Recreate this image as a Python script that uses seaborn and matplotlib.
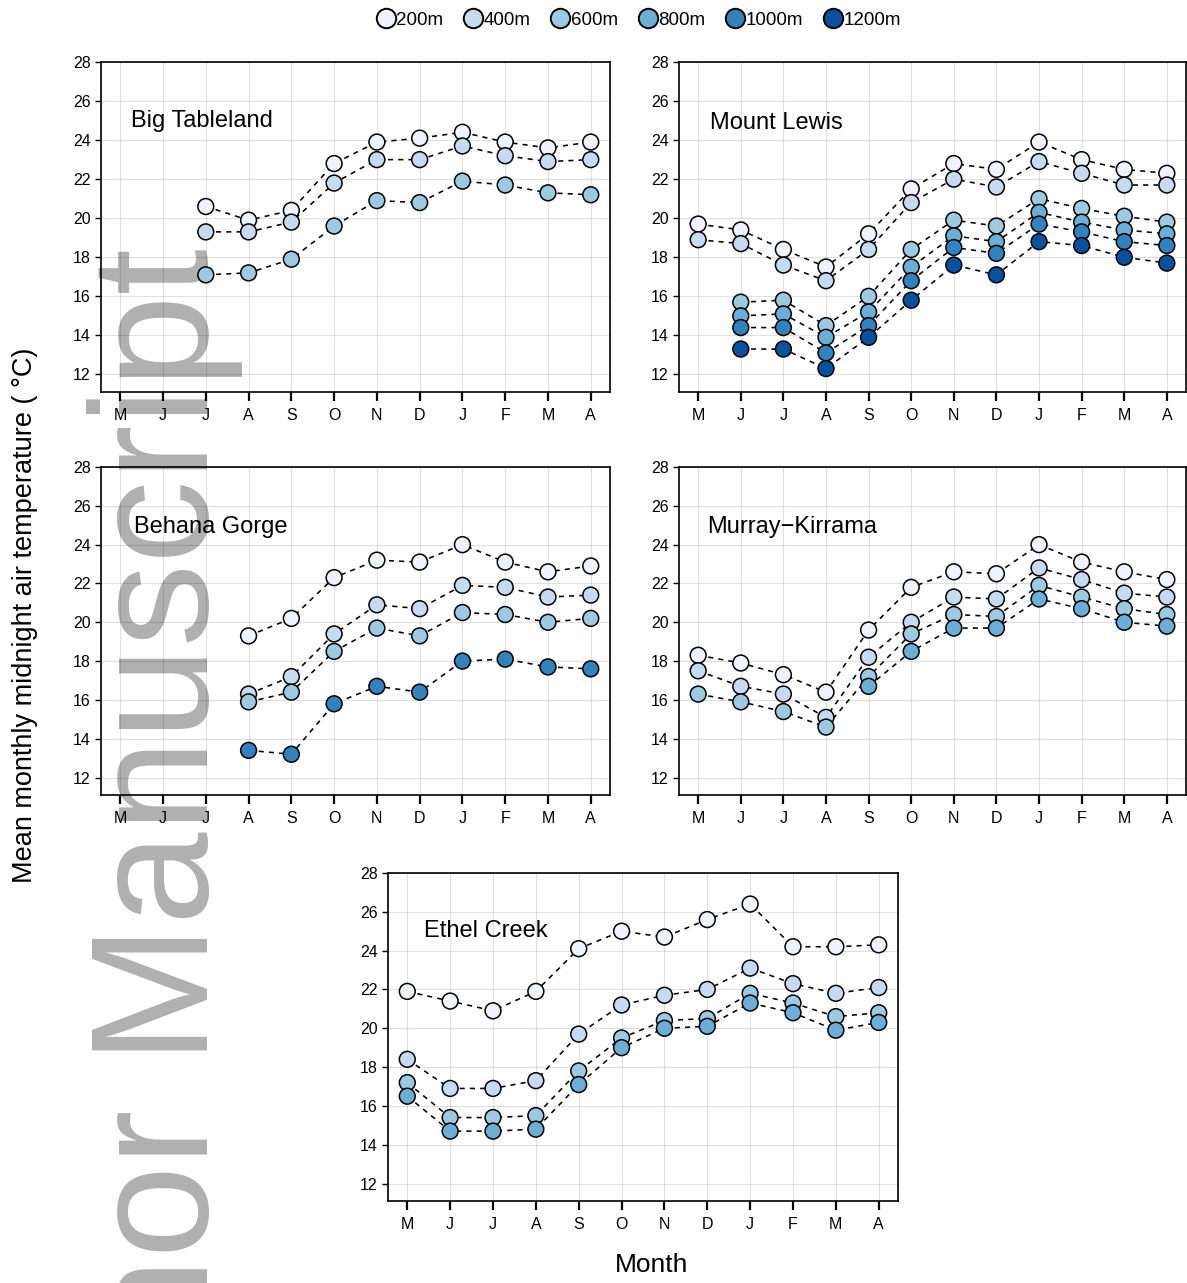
import numpy as np
import pandas as pd
import matplotlib
matplotlib.use("Agg")
import matplotlib.pyplot as plt
from matplotlib.lines import Line2D
import seaborn as sns

NA = np.nan

months = ["M", "J", "J", "A", "S", "O", "N", "D", "J", "F", "M", "A"]
elevations = ["200m", "400m", "600m", "800m", "1000m", "1200m"]
elev_colors = ["#eff3ff", "#c6dbef", "#9ecae1", "#6baed6", "#3182bd", "#08519c"]

# Mean monthly midnight air temperature (deg C), May .. April
big_tableland_200 = [NA, NA, 20.6, 19.9, 20.4, 22.8, 23.9, 24.1, 24.4, 23.9, 23.6, 23.9]
big_tableland_400 = [NA, NA, 19.3, 19.3, 19.8, 21.8, 23.0, 23.0, 23.7, 23.2, 22.9, 23.0]
big_tableland_600 = [NA, NA, 17.1, 17.2, 17.9, 19.6, 20.9, 20.8, 21.9, 21.7, 21.3, 21.2]

mount_lewis_200 = [19.7, 19.4, 18.4, 17.5, 19.2, 21.5, 22.8, 22.5, 23.9, 23.0, 22.5, 22.3]
mount_lewis_400 = [18.9, 18.7, 17.6, 16.8, 18.4, 20.8, 22.0, 21.6, 22.9, 22.3, 21.7, 21.7]
mount_lewis_600 = [NA, 15.7, 15.8, 14.5, 16.0, 18.4, 19.9, 19.6, 21.0, 20.5, 20.1, 19.8]
mount_lewis_800 = [NA, 15.0, 15.1, 13.9, 15.2, 17.5, 19.1, 18.8, 20.3, 19.8, 19.4, 19.2]
mount_lewis_1000 = [NA, 14.4, 14.4, 13.1, 14.5, 16.8, 18.5, 18.2, 19.7, 19.3, 18.8, 18.6]
mount_lewis_1200 = [NA, 13.3, 13.3, 12.3, 13.9, 15.8, 17.6, 17.1, 18.8, 18.6, 18.0, 17.7]

behana_gorge_200 = [NA, NA, NA, 19.3, 20.2, 22.3, 23.2, 23.1, 24.0, 23.1, 22.6, 22.9]
behana_gorge_400 = [NA, NA, NA, 16.3, 17.2, 19.4, 20.9, 20.7, 21.9, 21.8, 21.3, 21.4]
behana_gorge_600 = [NA, NA, NA, 15.9, 16.4, 18.5, 19.7, 19.3, 20.5, 20.4, 20.0, 20.2]
behana_gorge_1000 = [NA, NA, NA, 13.4, 13.2, 15.8, 16.7, 16.4, 18.0, 18.1, 17.7, 17.6]

murray_kirrama_200 = [18.3, 17.9, 17.3, 16.4, 19.6, 21.8, 22.6, 22.5, 24.0, 23.1, 22.6, 22.2]
murray_kirrama_400 = [17.5, 16.7, 16.3, 15.1, 18.2, 20.0, 21.3, 21.2, 22.8, 22.2, 21.5, 21.3]
murray_kirrama_600 = [16.3, 15.9, 15.4, 14.6, 17.2, 19.4, 20.4, 20.3, 21.9, 21.3, 20.7, 20.4]
murray_kirrama_800 = [NA, NA, NA, NA, 16.7, 18.5, 19.7, 19.7, 21.2, 20.7, 20.0, 19.8]

ethel_creek_200 = [21.9, 21.4, 20.9, 21.9, 24.1, 25.0, 24.7, 25.6, 26.4, 24.2, 24.2, 24.3]
ethel_creek_400 = [18.4, 16.9, 16.9, 17.3, 19.7, 21.2, 21.7, 22.0, 23.1, 22.3, 21.8, 22.1]
ethel_creek_600 = [17.2, 15.4, 15.4, 15.5, 17.8, 19.5, 20.4, 20.5, 21.8, 21.3, 20.6, 20.8]
ethel_creek_800 = [16.5, 14.7, 14.7, 14.8, 17.1, 19.0, 20.0, 20.1, 21.3, 20.8, 19.9, 20.3]

sites = [
    ("Big Tableland", {"200m": big_tableland_200, "400m": big_tableland_400,
                       "600m": big_tableland_600}),
    ("Mount Lewis", {"200m": mount_lewis_200, "400m": mount_lewis_400,
                     "600m": mount_lewis_600, "800m": mount_lewis_800,
                     "1000m": mount_lewis_1000, "1200m": mount_lewis_1200}),
    ("Behana Gorge", {"200m": behana_gorge_200, "400m": behana_gorge_400,
                      "600m": behana_gorge_600, "1000m": behana_gorge_1000}),
    ("Murray\u2212Kirrama", {"200m": murray_kirrama_200, "400m": murray_kirrama_400,
                             "600m": murray_kirrama_600, "800m": murray_kirrama_800}),
    ("Ethel Creek", {"200m": ethel_creek_200, "400m": ethel_creek_400,
                     "600m": ethel_creek_600, "800m": ethel_creek_800}),
]

sns.set_style("white")
plt.rcParams["font.family"] = ["Liberation Sans", "DejaVu Sans"]
plt.rcParams["text.color"] = "black"
plt.rcParams["axes.labelcolor"] = "black"
plt.rcParams["xtick.color"] = "black"
plt.rcParams["ytick.color"] = "black"

W, H = 1187, 1283
fig = plt.figure(figsize=(W / 100, H / 100), dpi=100)
palette = dict(zip(elevations, elev_colors))


def px_axes(left, top, right, bottom):
    return fig.add_axes([left / W, 1 - bottom / H, (right - left) / W, (bottom - top) / H])


panel_boxes = [
    (101, 62, 610, 392),
    (679, 62, 1186, 392),
    (101, 467, 610, 795),
    (679, 467, 1186, 795),
    (388, 873, 898, 1201),
]
label_pos = [(0.25, 25.0), (0.27, 24.9), (0.33, 24.9), (0.22, 24.9), (0.38, 25.0)]

for (name, series), box, lp in zip(sites, panel_boxes, label_pos):
    ax = px_axes(*box)
    ax.set_facecolor("none")
    rows = []
    for elev, vals in series.items():
        for i, v in enumerate(vals):
            if not np.isnan(v):
                rows.append((i, v, elev))
    df = pd.DataFrame(rows, columns=["month", "temp", "elev"])
    for elev in series:
        sub = df[df["elev"] == elev]
        sns.lineplot(data=sub, x="month", y="temp", ax=ax, color="black",
                     linestyle=(0, (3.2, 3.2)), linewidth=1.15, estimator=None,
                     sort=False, zorder=2)
    sns.scatterplot(data=df, x="month", y="temp", hue="elev", palette=palette,
                    hue_order=[e for e in elevations if e in series], s=130,
                    edgecolor="black", linewidth=1.1, zorder=3, legend=False, ax=ax)
    ax.set_xlim(-0.45, 11.45)
    ax.set_ylim(11.1, 28)
    ax.set_xticks(range(12))
    ax.set_xticklabels(months)
    ax.set_yticks(range(12, 29, 2))
    ax.set_xlabel("")
    ax.set_ylabel("")
    ax.grid(True, color="black", alpha=0.12, linewidth=0.8, zorder=0)
    ax.set_axisbelow(True)
    for sp in ax.spines.values():
        sp.set_visible(True)
        sp.set_color("black")
        sp.set_linewidth(1.2)
    ax.tick_params(axis="x", bottom=True, length=6.5, width=1.6, pad=5,
                   labelsize=11.5, color="black", labelcolor="black")
    ax.tick_params(axis="y", left=True, length=4.5, width=1.0, pad=3,
                   labelsize=11.5, color="black", labelcolor="black")
    ax.text(lp[0], lp[1], name, fontsize=17, ha="left", va="center", color="black")

handles = [Line2D([], [], marker="o", linestyle="", markerfacecolor=c,
                  markeredgecolor="black", markersize=14, markeredgewidth=1.4)
           for c in elev_colors]
fig.legend(handles, elevations, loc="center", bbox_to_anchor=(638 / W, 1 - 20 / H),
           ncol=6, frameon=False, handletextpad=0.0, columnspacing=1.05,
           handlelength=1.1, fontsize=13.5, borderaxespad=0)

fig.text(25 / W, 1 - 615 / H, "Mean monthly midnight air temperature ( \u00b0C)",
         rotation=90, ha="center", va="center", fontsize=19.5, color="black")
fig.text(652 / W, 1 - 1265 / H, "Month", ha="center", va="center", fontsize=19,
         color="black")

# repository watermark, drawn beneath the panels
fig.text(208 / W, 1 - 248 / H, "Author Manuscript", rotation=90, rotation_mode="anchor",
         ha="right", va="baseline", fontsize=120, color="#b0b0b0", zorder=-1)

fig.savefig("out.png", dpi=100, facecolor="white")
